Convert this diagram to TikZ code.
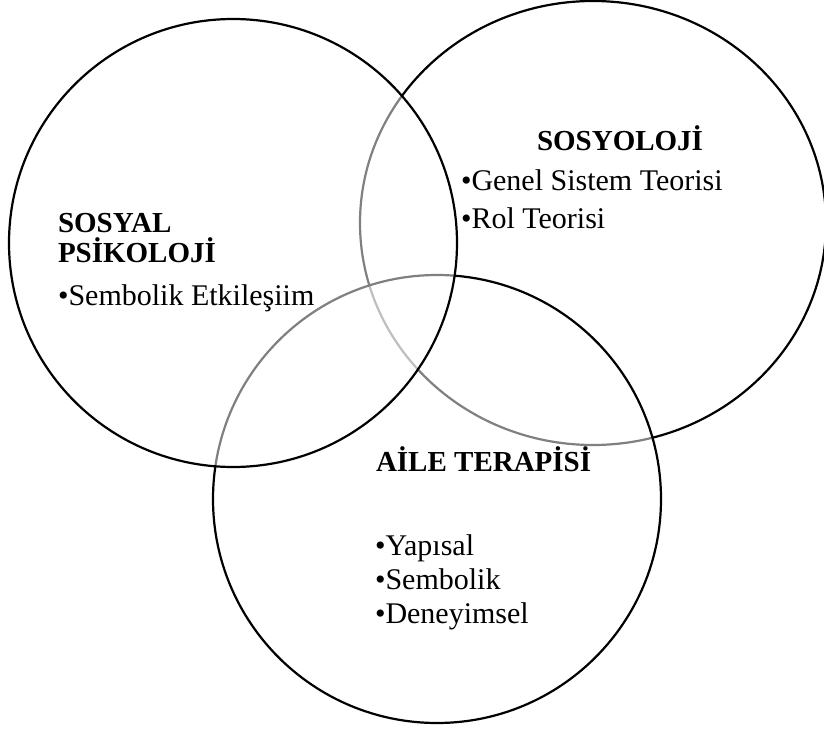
\documentclass[tikz,border=0pt]{standalone}
\usepackage{fontspec}
\setmainfont{Liberation Serif}
\newcommand{\labelsize}{\fontsize{29}{34}\selectfont}
\newcommand{\entrysize}{\fontsize{30}{34}\selectfont}
\tikzset{
  venn/.style={draw=black, line width=2.2pt, fill=white, fill opacity=0.5},
  % headings and bullet lines inside the circles
  heading/.style={anchor=base west, inner sep=0, outer sep=0, font=\labelsize\bfseries},
  entry/.style={anchor=base west, inner sep=0, outer sep=0, font=\entrysize},
}

\begin{document}
\begin{tikzpicture}[x=1pt, y=-1pt]
        \useasboundingbox (0,0) rectangle (824,730);
        % circles, back to front
        \path[venn] (593,223) ellipse [x radius=233, y radius=222];
        \path[venn] (437,499) circle [radius=224];
        \path[venn] (233,243) circle [radius=224];
        % social psychology
        \node[heading] (sp1) at (58,233) {SOSYAL};
        \node[heading] (sp2) at (58,262) {PSİKOLOJİ};
        \node[entry] (sp3) at (58,305) {\textbullet Sembolik Etkileşiim};
        % sociology
        \node[heading] (so1) at (537,151) {SOSYOLOJİ};
        \node[entry] (so2) at (461,191) {\textbullet Genel Sistem Teorisi};
        \node[entry] (so3) at (461,228) {\textbullet Rol Teorisi};
        % family therapy
        \node[heading] (at1) at (376,471) {AİLE TERAPİSİ};
        \node[entry] (at2) at (375,555) {\textbullet Yapısal};
        \node[entry] (at3) at (375,589) {\textbullet Sembolik};
        \node[entry] (at4) at (375,623) {\textbullet Deneyimsel};
    \end{tikzpicture}
\end{document}
